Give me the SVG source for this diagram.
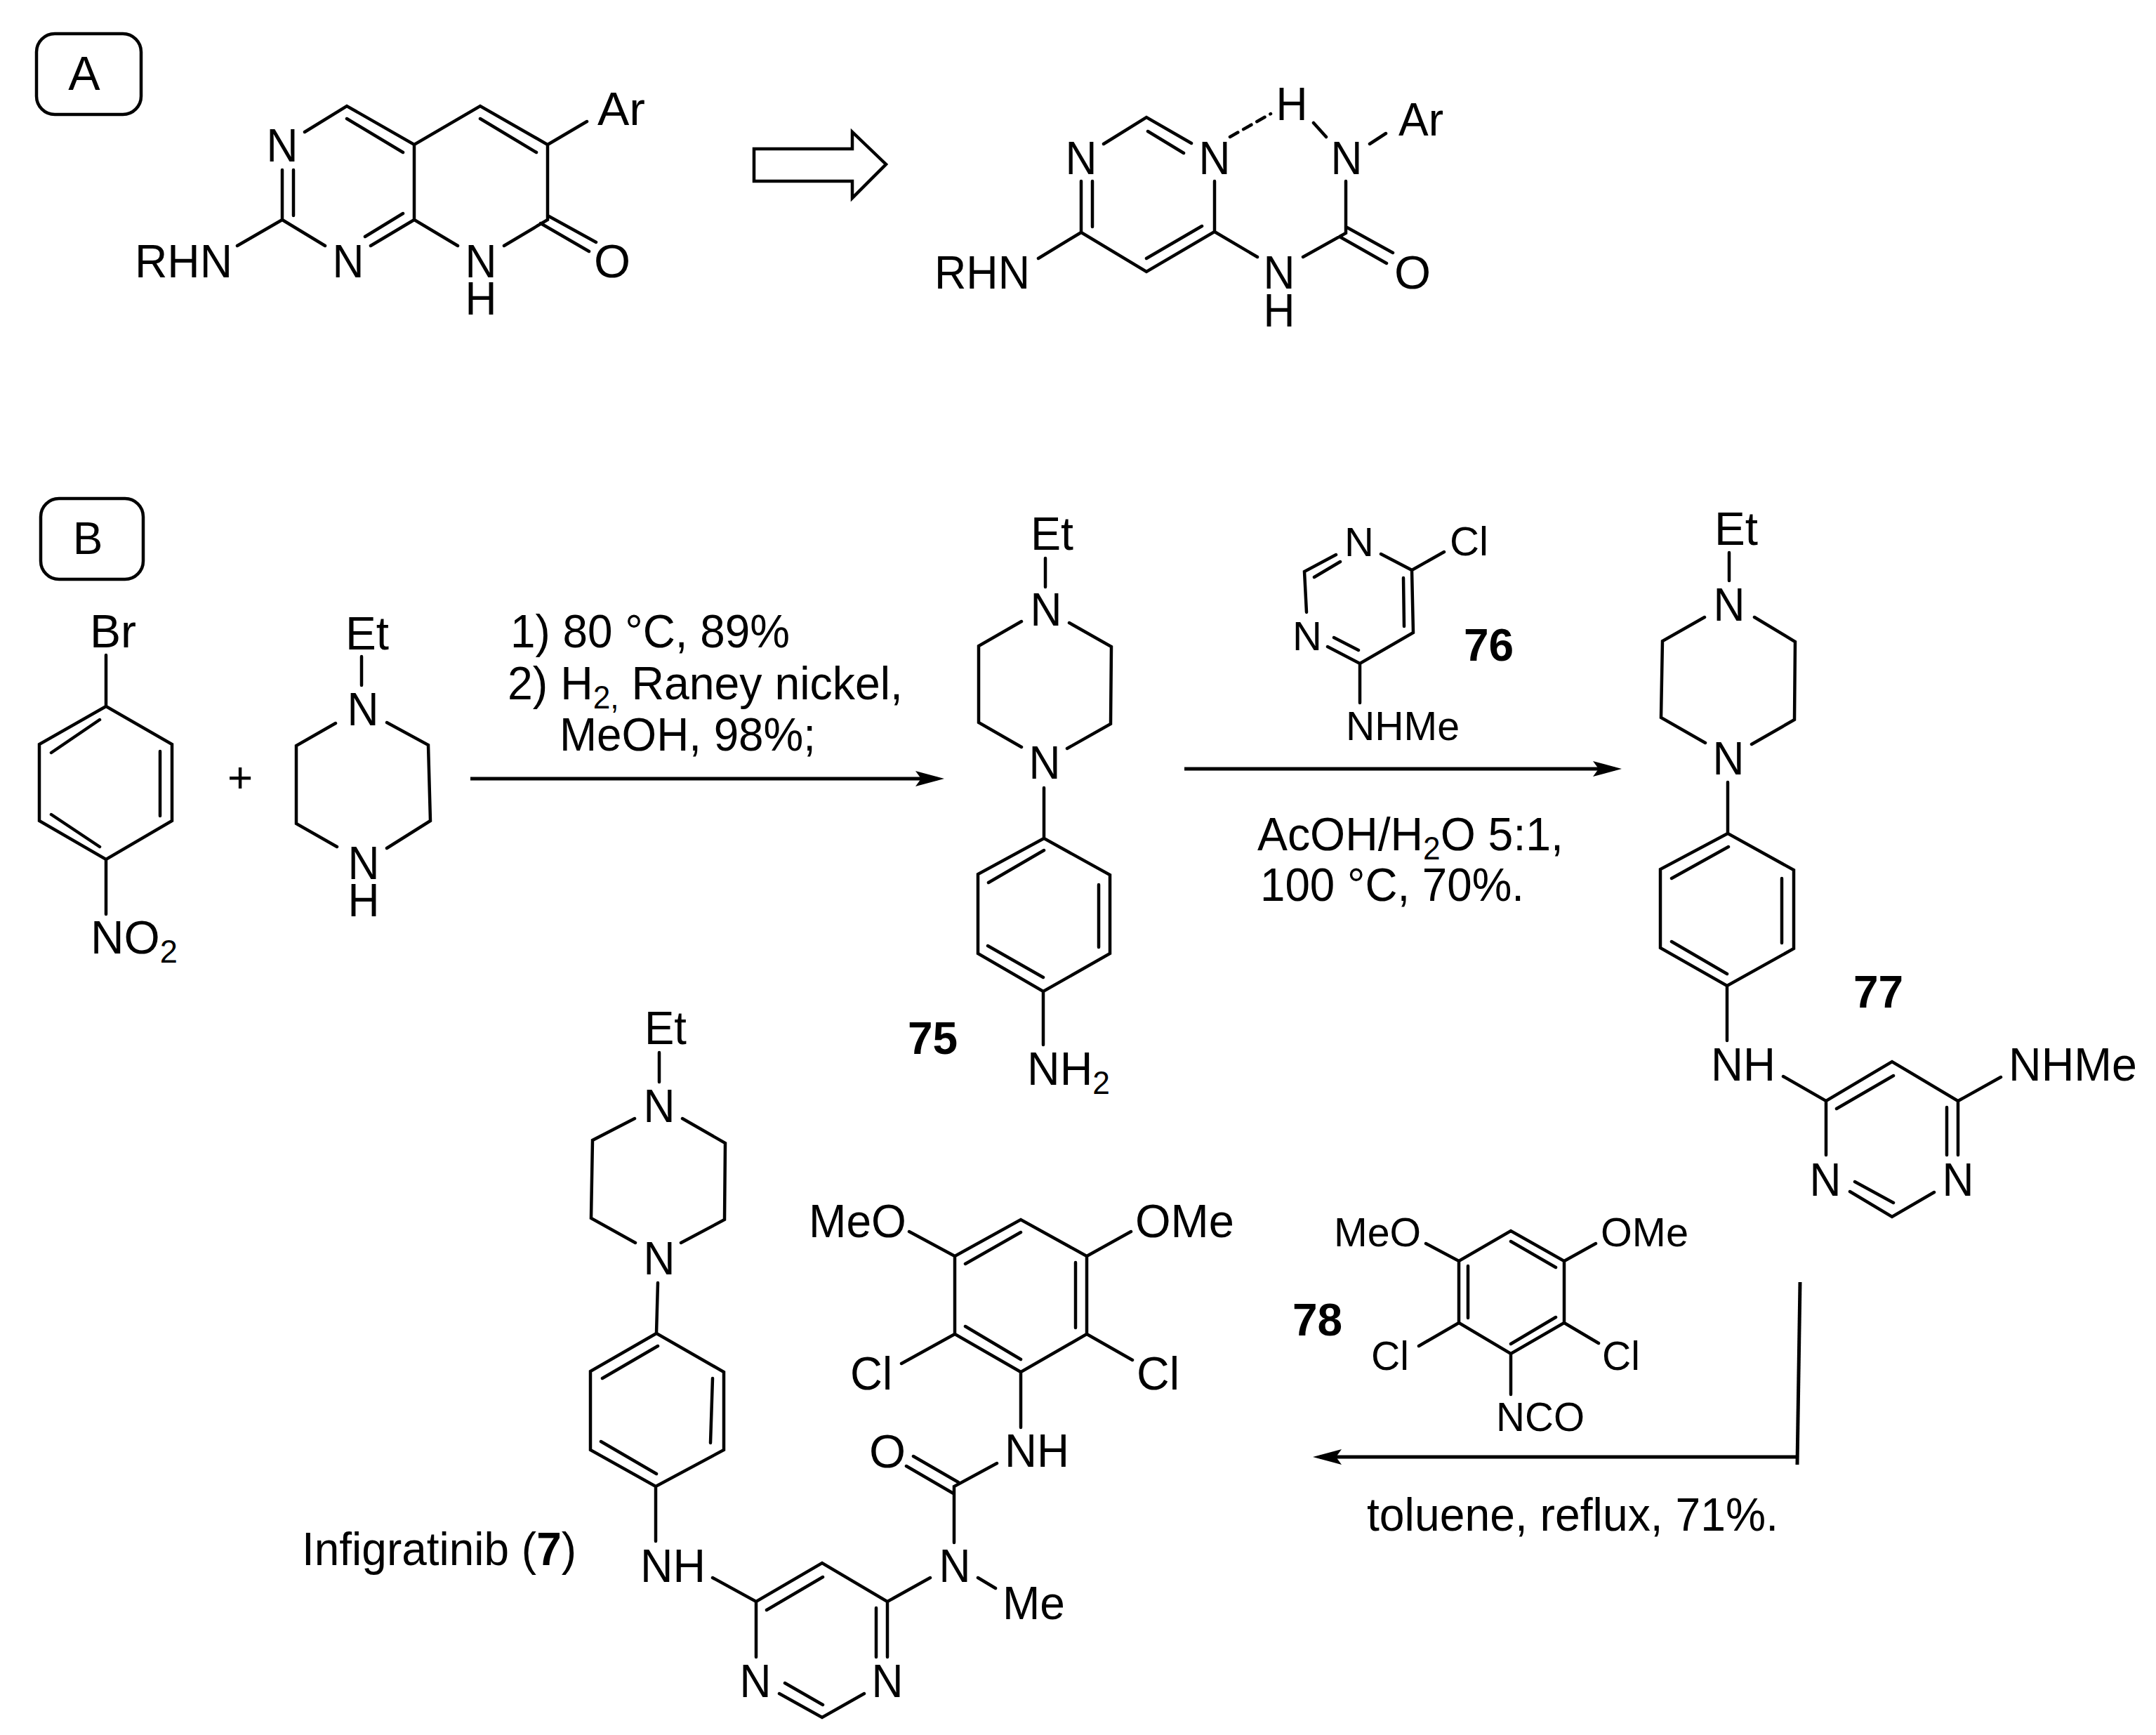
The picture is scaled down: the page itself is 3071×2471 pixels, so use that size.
<svg xmlns="http://www.w3.org/2000/svg" width="3071" height="2471" viewBox="0 0 3071 2471">
<style>
text{font-family:"Liberation Sans",Arial,sans-serif;font-size:67px;fill:#000}
.m{text-anchor:middle}
.s{font-size:58px}
.b{font-weight:bold;font-size:64px}
.u{font-size:46px}
.bond{fill:none;stroke:#000;stroke-width:4.5;stroke-linecap:round;stroke-linejoin:miter}
.box{fill:none;stroke:#000;stroke-width:4.5}
.arr{fill:none;stroke:#000;stroke-width:5}
</style>
<defs>
<marker id="head" markerUnits="userSpaceOnUse" markerWidth="44" markerHeight="26" viewBox="0 -13 44 26" refX="31" refY="0" orient="auto">
<path d="M0 -11L41 0L0 11L8 0Z" fill="#000"/>
</marker>
</defs>
<rect width="3071" height="2471" fill="#fff"/>

<g id="label-A">
<rect class="box" x="52" y="48" width="149" height="115" rx="26"/>
<text class="m" x="120" y="128" style="font-size:68px">A</text>
</g>

<g id="pyridopyrimidinone">
<path class="bond" d="M434 188L494 151L590 206L684 151L780 206L780 313L718 350M494 169L574 217M684 169L764 217M590 206L590 313L652 350M590 313L528 350M574 304L520 337M402 313L463 350M402 313L338 350M402 242L402 313M418 242L418 307M780 206L836 173M780 307L849 345M770 318L839 358"/>
<text class="m" x="402" y="230" textLength="45" lengthAdjust="spacingAndGlyphs">N</text>
<text x="192" y="395" textLength="139" lengthAdjust="spacingAndGlyphs">RHN</text>
<text class="m" x="496" y="395" textLength="45" lengthAdjust="spacingAndGlyphs">N</text>
<text class="m"><tspan x="685" y="395" textLength="45" lengthAdjust="spacingAndGlyphs">N</tspan><tspan x="685" y="448" textLength="45" lengthAdjust="spacingAndGlyphs">H</tspan></text>
<text class="m" x="872" y="395">O</text>
<text x="851" y="178" textLength="68" lengthAdjust="spacingAndGlyphs">Ar</text>
</g>

<g id="open-arrow">
<path d="M1074 212H1214V188L1262 234L1214 282V258H1074Z" fill="#fff" stroke="#000" stroke-width="4.5"/>
</g>

<g id="pyrimidinyl-urea">
<path class="bond" d="M1572 205L1633 167L1697 204M1635 187L1686 218M1730 258L1730 330L1633 387L1540 331L1540 258M1556 258L1556 323M1633 368L1712 322M1540 331L1479 368M1730 330L1791 366M1856 366L1917 332L1917 258M1917 323L1984 360M1908 337L1975 375M1871 175L1889 195M1951 205L1974 190"/>
<path class="bond" d="M1752 195L1810 162" stroke-dasharray="13 9"/>
<text class="m" x="1540" y="248" textLength="45" lengthAdjust="spacingAndGlyphs">N</text>
<text class="m" x="1730" y="248" textLength="45" lengthAdjust="spacingAndGlyphs">N</text>
<text class="m" x="1840" y="171" textLength="45" lengthAdjust="spacingAndGlyphs">H</text>
<text class="m" x="1918" y="248" textLength="45" lengthAdjust="spacingAndGlyphs">N</text>
<text x="1992" y="193" textLength="64" lengthAdjust="spacingAndGlyphs">Ar</text>
<text x="1331" y="411" textLength="136" lengthAdjust="spacingAndGlyphs">RHN</text>
<text class="m"><tspan x="1822" y="411" textLength="45" lengthAdjust="spacingAndGlyphs">N</tspan><tspan x="1822" y="465" textLength="45" lengthAdjust="spacingAndGlyphs">H</tspan></text>
<text class="m" x="2012" y="411">O</text>
</g>

<g id="label-B">
<rect class="box" x="58" y="710" width="146" height="115" rx="26"/>
<text class="m" x="125" y="789" style="font-size:64px">B</text>
</g>

<g id="bromonitrobenzene">
<path class="bond" d="M151 933L151 1006L245 1060L245 1169L151 1224L56 1169L56 1060L151 1006M142 1025L73 1072M228 1070L228 1162M73 1160L142 1206M151 1224L151 1302"/>
<text x="128" y="922" textLength="66" lengthAdjust="spacingAndGlyphs">Br</text>
<text x="129" y="1358" textLength="124" lengthAdjust="spacingAndGlyphs">NO<tspan class="u" dy="13">2</tspan></text>
</g>

<g id="plus">
<text class="m" x="342" y="1128" style="font-size:62px">+</text>
</g>

<g id="ethylpiperazine">
<path class="bond" d="M515 935L515 976M478 1030L422 1062L422 1173L480 1206M551 1208L613 1169L610 1061L551 1029"/>
<text x="492" y="925" textLength="62" lengthAdjust="spacingAndGlyphs">Et</text>
<text class="m" x="517" y="1033" textLength="45" lengthAdjust="spacingAndGlyphs">N</text>
<text class="m"><tspan x="518" y="1252" textLength="45" lengthAdjust="spacingAndGlyphs">N</tspan><tspan x="518" y="1305" textLength="45" lengthAdjust="spacingAndGlyphs">H</tspan></text>
</g>

<g id="conditions-1">
<text x="727" y="922" textLength="398" lengthAdjust="spacingAndGlyphs">1) 80 °C, 89%</text>
<text x="723" y="996" textLength="563" lengthAdjust="spacingAndGlyphs">2) H<tspan class="u" dy="13">2,</tspan><tspan dy="-13"> Raney nickel,</tspan></text>
<text x="797" y="1069" textLength="365" lengthAdjust="spacingAndGlyphs">MeOH, 98%;</text>
</g>

<g id="compound-75">
<path class="bond" d="M1489 795L1489 836M1455 885L1394 920L1394 1029L1455 1064M1520 1066L1582 1031L1583 921L1523 887M1487 1122L1487 1194L1581 1246L1581 1358L1486 1412L1393 1358L1393 1245L1487 1194M1487 1211L1408 1257M1565 1260L1565 1349M1407 1347L1486 1392M1486 1412L1486 1488"/>
<text x="1468" y="783" textLength="61" lengthAdjust="spacingAndGlyphs">Et</text>
<text class="m" x="1490" y="891" textLength="45" lengthAdjust="spacingAndGlyphs">N</text>
<text class="m" x="1488" y="1109" textLength="45" lengthAdjust="spacingAndGlyphs">N</text>
<text x="1463" y="1545" textLength="118" lengthAdjust="spacingAndGlyphs">NH<tspan class="u" dy="13">2</tspan></text>
<text x="1293" y="1501" class="b">75</text>
</g>

<g id="compound-76">
<path class="bond" d="M1967 789L2011 812L2013 901L1937 945L1891 921M1999 823L2000 892M1935 926L1900 908M1861 872L1858 814L1903 790M1872 822L1909 800M2011 812L2057 786M1937 945L1937 1001"/>
<text class="m s" x="1936" y="792">N</text>
<text x="2065" y="791" class="s" textLength="55" lengthAdjust="spacingAndGlyphs">Cl</text>
<text class="m s" x="1862" y="926">N</text>
<text x="1917" y="1054" class="s" textLength="162" lengthAdjust="spacingAndGlyphs">NHMe</text>
<text x="2085" y="941" class="b">76</text>
</g>

<g id="conditions-2">
<text x="1791" y="1211" textLength="436" lengthAdjust="spacingAndGlyphs">AcOH/H<tspan class="u" dy="13">2</tspan><tspan dy="-13">O 5:1,</tspan></text>
<text x="1795" y="1283" textLength="376" lengthAdjust="spacingAndGlyphs">100 °C, 70%.</text>
</g>

<g id="compound-77">
<path class="bond" d="M2463 787L2463 827M2428 879L2368 913L2366 1022L2429 1058M2495 1060L2556 1025L2557 914L2499 879M2461 1114L2461 1187L2555 1239L2555 1351L2460 1404L2365 1350L2365 1238L2461 1187M2462 1206L2381 1251M2538 1251L2538 1343M2381 1341L2460 1387M2460 1404L2460 1482M2540 1533L2601 1568L2695 1512L2789 1568L2789 1645M2616 1579L2697 1532M2601 1568L2601 1645M2773 1577L2773 1645M2789 1568L2850 1534M2635 1697L2695 1733L2755 1698M2642 1683L2697 1713"/>
<text x="2442" y="776" textLength="62" lengthAdjust="spacingAndGlyphs">Et</text>
<text class="m" x="2463" y="884" textLength="45" lengthAdjust="spacingAndGlyphs">N</text>
<text class="m" x="2462" y="1103" textLength="45" lengthAdjust="spacingAndGlyphs">N</text>
<text x="2437" y="1539" textLength="92" lengthAdjust="spacingAndGlyphs">NH</text>
<text x="2861" y="1539" textLength="183" lengthAdjust="spacingAndGlyphs">NHMe</text>
<text class="m" x="2600" y="1703" textLength="45" lengthAdjust="spacingAndGlyphs">N</text>
<text class="m" x="2789" y="1703" textLength="45" lengthAdjust="spacingAndGlyphs">N</text>
<text x="2640" y="1435" class="b">77</text>
</g>

<g id="compound-78">
<path class="bond" d="M2031 1771L2078 1796L2152 1753L2228 1796L2228 1884L2152 1928L2078 1884L2078 1796M2152 1768L2216 1805M2216 1876L2152 1914M2091 1803L2091 1877M2228 1796L2273 1771M2078 1884L2021 1917M2228 1884L2277 1913M2152 1928L2152 1986"/>
<text x="1900" y="1775" class="s" textLength="124" lengthAdjust="spacingAndGlyphs">MeO</text>
<text x="2280" y="1775" class="s" textLength="125" lengthAdjust="spacingAndGlyphs">OMe</text>
<text x="1953" y="1951" class="s" textLength="54" lengthAdjust="spacingAndGlyphs">Cl</text>
<text x="2282" y="1951" class="s" textLength="54" lengthAdjust="spacingAndGlyphs">Cl</text>
<text x="2131" y="2038" class="s" textLength="126" lengthAdjust="spacingAndGlyphs">NCO</text>
<text x="1841" y="1902" class="b">78</text>
</g>

<g id="conditions-3">
<text x="1947" y="2180" textLength="586" lengthAdjust="spacingAndGlyphs">toluene, reflux, 71%.</text>
</g>

<g id="infigratinib">
<path class="bond" d="M939 1499L939 1541M904 1593L844 1624L842 1735L905 1770M970 1770L1032 1737L1033 1628L972 1593M937 1827L935 1899L1031 1954L1031 2065L934 2117L841 2065L841 1953L935 1899M937 1917L858 1963M1015 1963L1012 2055M856 2053L935 2099M934 2117L934 2195M1015 2247L1077 2281L1171 2226L1264 2281L1264 2360M1092 2293L1172 2246M1077 2281L1077 2360M1248 2290L1248 2360M1110 2412L1171 2446L1231 2412M1118 2397L1172 2428M1264 2281L1325 2247M1359 2197L1359 2117L1420 2084M1301 2074L1365 2111M1291 2088L1358 2127M1393 2247L1418 2262M1454 2033L1454 1954L1548 1900L1548 1789L1454 1737L1360 1789L1360 1900L1454 1954M1454 1755L1375 1800M1532 1798L1532 1891M1375 1889L1454 1936M1295 1754L1360 1789M1548 1789L1611 1754M1360 1900L1284 1942M1548 1900L1613 1937"/>
<text x="918" y="1487" textLength="60" lengthAdjust="spacingAndGlyphs">Et</text>
<text class="m" x="939" y="1598" textLength="45" lengthAdjust="spacingAndGlyphs">N</text>
<text class="m" x="939" y="1815" textLength="45" lengthAdjust="spacingAndGlyphs">N</text>
<text x="912" y="2253" textLength="93" lengthAdjust="spacingAndGlyphs">NH</text>
<text x="430" y="2229" textLength="391" lengthAdjust="spacingAndGlyphs">Infigratinib (<tspan font-weight="bold">7</tspan>)</text>
<text x="1152" y="1762" textLength="139" lengthAdjust="spacingAndGlyphs">MeO</text>
<text x="1617" y="1762" textLength="141" lengthAdjust="spacingAndGlyphs">OMe</text>
<text x="1211" y="1979" textLength="60" lengthAdjust="spacingAndGlyphs">Cl</text>
<text x="1619" y="1979" textLength="61" lengthAdjust="spacingAndGlyphs">Cl</text>
<text x="1431" y="2089" textLength="92" lengthAdjust="spacingAndGlyphs">NH</text>
<text class="m" x="1264" y="2090">O</text>
<text class="m" x="1360" y="2253" textLength="45" lengthAdjust="spacingAndGlyphs">N</text>
<text x="1428" y="2306" textLength="89" lengthAdjust="spacingAndGlyphs">Me</text>
<text class="m" x="1076" y="2417" textLength="45" lengthAdjust="spacingAndGlyphs">N</text>
<text class="m" x="1264" y="2417" textLength="45" lengthAdjust="spacingAndGlyphs">N</text>
</g>

<g id="connectors">
<path class="arr" d="M670 1109H1335" marker-end="url(#head)"/>
<path class="arr" d="M1687 1095H2300" marker-end="url(#head)"/>
<path class="arr" d="M2564 1826L2560 2086"/>
<path class="arr" d="M2560 2075H1880" marker-end="url(#head)"/>
</g>
</svg>
